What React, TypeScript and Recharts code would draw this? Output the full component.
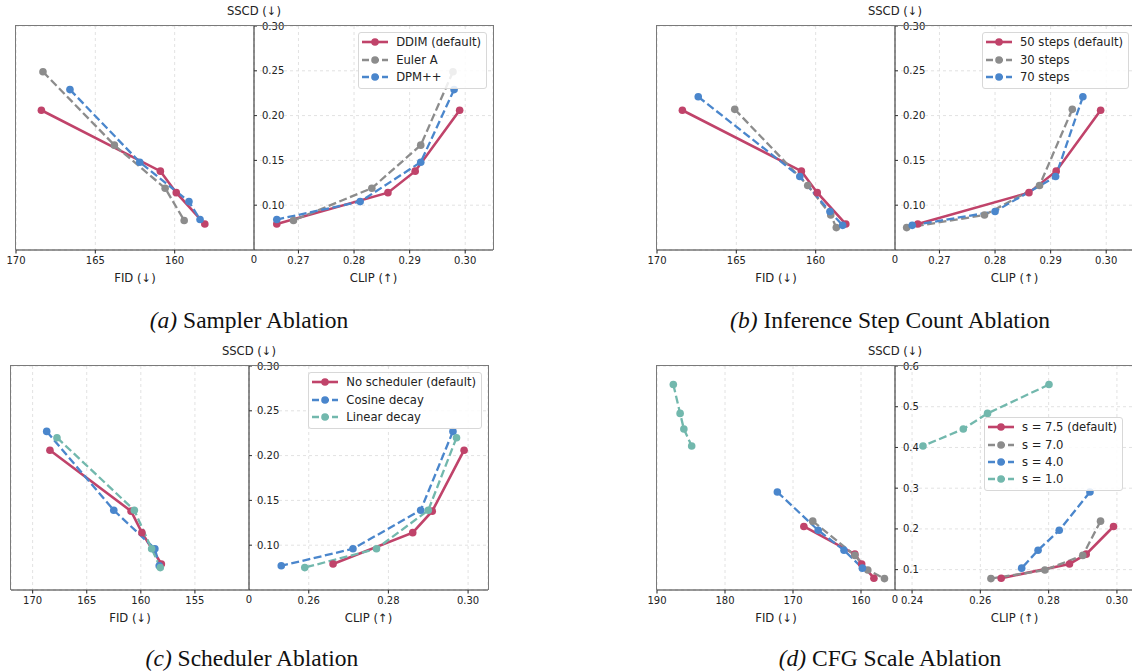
import React from 'react'
import { LineChart, Line, XAxis, YAxis, CartesianGrid } from 'recharts'

const FONT = '"DejaVu Sans", sans-serif'
const RED = '#c0436a'
const GRAY = '#8c8c8c'
const BLUE = '#4a86cc'
const TEAL = '#72b8ad'

// SSCD values ordered high -> low; FID / CLIP entries line up with them
const DEFAULT_SSCD = [0.206, 0.138, 0.114, 0.079]
const DEFAULT_FID = [168.4, 160.9, 159.9, 158.1]
const DEFAULT_CLIP = [0.299, 0.291, 0.2861, 0.2661]

const EULER_SSCD = [0.249, 0.167, 0.119, 0.083]
const EULER_FID = [168.3, 163.8, 160.6, 159.4]
const EULER_CLIP = [0.2978, 0.292, 0.2832, 0.2691]

const DPM_SSCD = [0.229, 0.148, 0.104, 0.084]
const DPM_FID = [166.6, 162.2, 159.1, 158.4]
const DPM_CLIP = [0.298, 0.292, 0.2811, 0.2661]

const STEPS30_SSCD = [0.207, 0.122, 0.089, 0.075]
const STEPS30_FID = [165.1, 160.5, 159.05, 158.7]
const STEPS30_CLIP = [0.2939, 0.288, 0.2781, 0.2641]

const STEPS70_SSCD = [0.221, 0.132, 0.093, 0.0775]
const STEPS70_FID = [167.4, 161.0, 159.1, 158.3]
const STEPS70_CLIP = [0.2958, 0.2909, 0.28, 0.2651]

const COSINE_SSCD = [0.227, 0.139, 0.096, 0.077]
const COSINE_FID = [168.7, 162.5, 158.7, 158.3]
const COSINE_CLIP = [0.2962, 0.2881, 0.2711, 0.2531]

const LINEAR_SSCD = [0.22, 0.139, 0.096, 0.075]
const LINEAR_FID = [167.75, 160.6, 159.0, 158.2]
const LINEAR_CLIP = [0.2971, 0.29, 0.277, 0.259]

const CFG7_SSCD = [0.219, 0.135, 0.099, 0.078]
const CFG7_FID = [167.1, 160.9, 159.0, 156.55]
const CFG7_CLIP = [0.2952, 0.29, 0.2789, 0.2631]

const CFG4_SSCD = [0.2905, 0.1966, 0.1477, 0.1037]
const CFG4_FID = [172.3, 166.3, 162.5, 159.8]
const CFG4_CLIP = [0.2921, 0.2831, 0.2769, 0.2721]

const CFG1_SSCD = [0.5545, 0.4836, 0.4452, 0.4037]
const CFG1_FID = [187.6, 186.6, 186.05, 184.9]
const CFG1_CLIP = [0.2801, 0.2621, 0.255, 0.2432]

const FID_TICKS_AB = [170, 165, 160]
const FID_TICKS_C = [170, 165, 160, 155]
const FID_TICKS_D = [190, 180, 170, 160]
const CLIP_TICKS_AB = [0.27, 0.28, 0.29, 0.3]
const CLIP_TICKS_C = [0.26, 0.28, 0.3]
const CLIP_TICKS_D = [0.24, 0.26, 0.28, 0.3]
const SSCD_TICKS = [0.1, 0.15, 0.2, 0.25, 0.3]
const SSCD_TICKS_D = [0.1, 0.2, 0.3, 0.4, 0.5, 0.6]

interface Series {
  name: string
  color: string
  dashed: boolean
  sscd: number[]
  fid: number[]
  clip: number[]
}

const DEF = { color: RED, dashed: false, sscd: DEFAULT_SSCD, fid: DEFAULT_FID, clip: DEFAULT_CLIP }

const SERIES_A: Series[] = [
  { name: 'DDIM (default)', ...DEF },
  { name: 'Euler A', color: GRAY, dashed: true, sscd: EULER_SSCD, fid: EULER_FID, clip: EULER_CLIP },
  { name: 'DPM++', color: BLUE, dashed: true, sscd: DPM_SSCD, fid: DPM_FID, clip: DPM_CLIP },
]
const SERIES_B: Series[] = [
  { name: '50 steps (default)', ...DEF },
  { name: '30 steps', color: GRAY, dashed: true, sscd: STEPS30_SSCD, fid: STEPS30_FID, clip: STEPS30_CLIP },
  { name: '70 steps', color: BLUE, dashed: true, sscd: STEPS70_SSCD, fid: STEPS70_FID, clip: STEPS70_CLIP },
]
const SERIES_C: Series[] = [
  { name: 'No scheduler (default)', ...DEF },
  { name: 'Cosine decay', color: BLUE, dashed: true, sscd: COSINE_SSCD, fid: COSINE_FID, clip: COSINE_CLIP },
  { name: 'Linear decay', color: TEAL, dashed: true, sscd: LINEAR_SSCD, fid: LINEAR_FID, clip: LINEAR_CLIP },
]
const SERIES_D: Series[] = [
  { name: 's = 7.5 (default)', ...DEF },
  { name: 's = 7.0', color: GRAY, dashed: true, sscd: CFG7_SSCD, fid: CFG7_FID, clip: CFG7_CLIP },
  { name: 's = 4.0', color: BLUE, dashed: true, sscd: CFG4_SSCD, fid: CFG4_FID, clip: CFG4_CLIP },
  { name: 's = 1.0', color: TEAL, dashed: true, sscd: CFG1_SSCD, fid: CFG1_FID, clip: CFG1_CLIP },
]

const LW = 238
const RW = 239
const H = 224
const AXIS_H = 30
const DASH = '8 3.5'

const tickStyle = { fontSize: 10, fill: '#222', fontFamily: FONT }

function Half({ side, width, domain, ticks, reversed, yDomain, yTicks, yFmt, xFmt, series }: any) {
  return (
    <LineChart width={width} height={H + AXIS_H} margin={{ top: 0, right: 0, bottom: 0, left: 0 }}>
      <CartesianGrid stroke="#e2e2e2" strokeDasharray="3 3" />
      <XAxis type="number" dataKey="x" domain={domain} reversed={reversed} ticks={ticks} interval={0}
        allowDataOverflow height={AXIS_H} stroke="#333" strokeWidth={1.1} tickSize={3.5} tickMargin={3}
        tick={tickStyle} tickFormatter={xFmt} />
      <YAxis type="number" dataKey="y" orientation={side === 'left' ? 'right' : 'left'} mirror
        domain={yDomain} ticks={yTicks} interval={0} allowDataOverflow
        axisLine={side === 'right' ? { stroke: '#333', strokeWidth: 1.1 } : false}
        tickLine={{ stroke: '#333' }} tickSize={3} tickMargin={5}
        tick={side === 'right' ? tickStyle : false} tickFormatter={yFmt} />
      {series.map((s: Series) => (
        <Line key={s.name} data={s.sscd.map((v, i) => ({ x: side === 'left' ? s.fid[i] : s.clip[i], y: v }))}
          dataKey="y" stroke={s.color} strokeWidth={s.dashed ? 2.3 : 2.6}
          strokeDasharray={s.dashed ? DASH : undefined}
          dot={{ r: 3.8, fill: s.color, stroke: 'none', strokeWidth: 0 }}
          isAnimationActive={false} />
      ))}
    </LineChart>
  )
}

function LegendBox({ series, style }: { series: Series[]; style: React.CSSProperties }) {
  return (
    <div style={{
      position: 'absolute', ...style, background: 'rgba(255,255,255,0.85)', border: '1px solid #d8d8d8',
      borderRadius: 3, padding: '1px 5px 2px 3px', fontFamily: FONT, fontSize: 11.6, color: '#222',
    }}>
      {series.map((s) => (
        <div key={s.name} style={{ display: 'flex', alignItems: 'center', height: 17.3 }}>
          <svg width={26} height={10} style={{ marginRight: 8 }}>
            <line x1={0} y1={5} x2={26} y2={5} stroke={s.color} strokeWidth={2.6}
              strokeDasharray={s.dashed ? '7 3' : undefined} />
            <circle cx={13} cy={5} r={3.8} fill={s.color} />
          </svg>
          <span style={{ whiteSpace: 'nowrap' }}>{s.name}</span>
        </div>
      ))}
    </div>
  )
}

const text = (extra: React.CSSProperties): React.CSSProperties => ({
  position: 'absolute', fontFamily: FONT, fontSize: 11.6, color: '#222', whiteSpace: 'nowrap',
  transform: 'translate(-50%, -50%)', ...extra,
})

function Panel({ x, y, fidDomain, fidTicks, clipDomain, clipTicks, yDomain, yTicks, yFmt, clipFmt, series, legend }: any) {
  return (
    <div style={{ position: 'absolute', left: x, top: y, width: LW + RW, height: H }}>
      <div style={{ position: 'absolute', left: 0, top: 0 }}>
        <Half side="left" width={LW} domain={fidDomain} ticks={fidTicks} reversed yDomain={yDomain}
          yTicks={yTicks} xFmt={(v: number) => String(v)} series={series} />
      </div>
      <div style={{ position: 'absolute', left: LW, top: 0 }}>
        <Half side="right" width={RW} domain={clipDomain} ticks={clipTicks} yDomain={yDomain}
          yTicks={yTicks} yFmt={yFmt} xFmt={clipFmt} series={series} />
      </div>
      <div style={{
        position: 'absolute', left: -0.6, top: -0.6, width: LW + RW + 1.2, height: H + 0.6,
        borderTop: '1.2px solid #7a7a7a', borderLeft: '1.2px solid #7a7a7a', borderRight: '1.2px solid #7a7a7a',
        boxSizing: 'border-box', pointerEvents: 'none',
      }} />
      <div style={text({ left: LW, top: -15 })}>SSCD (↓)</div>
      <div style={text({ left: LW / 2, top: H + 28 })}>FID (↓)</div>
      <div style={text({ left: LW + RW / 2, top: H + 28 })}>CLIP (↑)</div>
      <div style={text({ left: LW, top: H + 9.5, fontSize: 10 })}>0</div>
      <LegendBox series={series} style={legend} />
    </div>
  )
}

function Caption({ cx, top, tag, label }: { cx: number; top: number; tag: string; label: string }) {
  return (
    <div style={{
      position: 'absolute', left: cx - 250, top, width: 500, textAlign: 'center',
      fontFamily: '"Liberation Serif", "Times New Roman", serif', fontSize: 23.5, lineHeight: '28px', color: '#111',
    }}>
      <i>({tag})</i> {label}
    </div>
  )
}

const f2 = (v: number) => v.toFixed(2)
const f1 = (v: number) => v.toFixed(1)

export default function App() {
  return (
    <div style={{ position: 'absolute', left: 0, top: 0, width: 1132, height: 672, overflow: 'hidden', background: '#fff' }}>
      <style>{'.recharts-surface{overflow:visible}'}</style>
      <Panel x={16} y={25.7} fidDomain={[155, 170]} fidTicks={FID_TICKS_AB} clipDomain={[0.262, 0.305]}
        clipTicks={CLIP_TICKS_AB} clipFmt={f2} yDomain={[0.05, 0.3]} yTicks={SSCD_TICKS} yFmt={f2}
        series={SERIES_A} legend={{ right: 6, top: 6 }} />
      <Panel x={657} y={25.7} fidDomain={[155, 170]} fidTicks={FID_TICKS_AB} clipDomain={[0.262, 0.305]}
        clipTicks={CLIP_TICKS_AB} clipFmt={f2} yDomain={[0.05, 0.3]} yTicks={SSCD_TICKS} yFmt={f2}
        series={SERIES_B} legend={{ right: 5, top: 6 }} />
      <Panel x={11} y={365.7} fidDomain={[150, 172]} fidTicks={FID_TICKS_C} clipDomain={[0.245, 0.305]}
        clipTicks={CLIP_TICKS_C} clipFmt={f2} yDomain={[0.05, 0.3]} yTicks={SSCD_TICKS} yFmt={f2}
        series={SERIES_C} legend={{ right: 6, top: 6 }} />
      <Panel x={657} y={365.7} fidDomain={[155, 190]} fidTicks={FID_TICKS_D} clipDomain={[0.235, 0.305]}
        clipTicks={CLIP_TICKS_D} clipFmt={f2} yDomain={[0.05, 0.6]} yTicks={SSCD_TICKS_D} yFmt={f1}
        series={SERIES_D} legend={{ right: 11, top: 51 }} />
      <Caption cx={249} top={306} tag="a" label="Sampler Ablation" />
      <Caption cx={890} top={306} tag="b" label="Inference Step Count Ablation" />
      <Caption cx={252} top={644} tag="c" label="Scheduler Ablation" />
      <Caption cx={890} top={644} tag="d" label="CFG Scale Ablation" />
    </div>
  )
}
